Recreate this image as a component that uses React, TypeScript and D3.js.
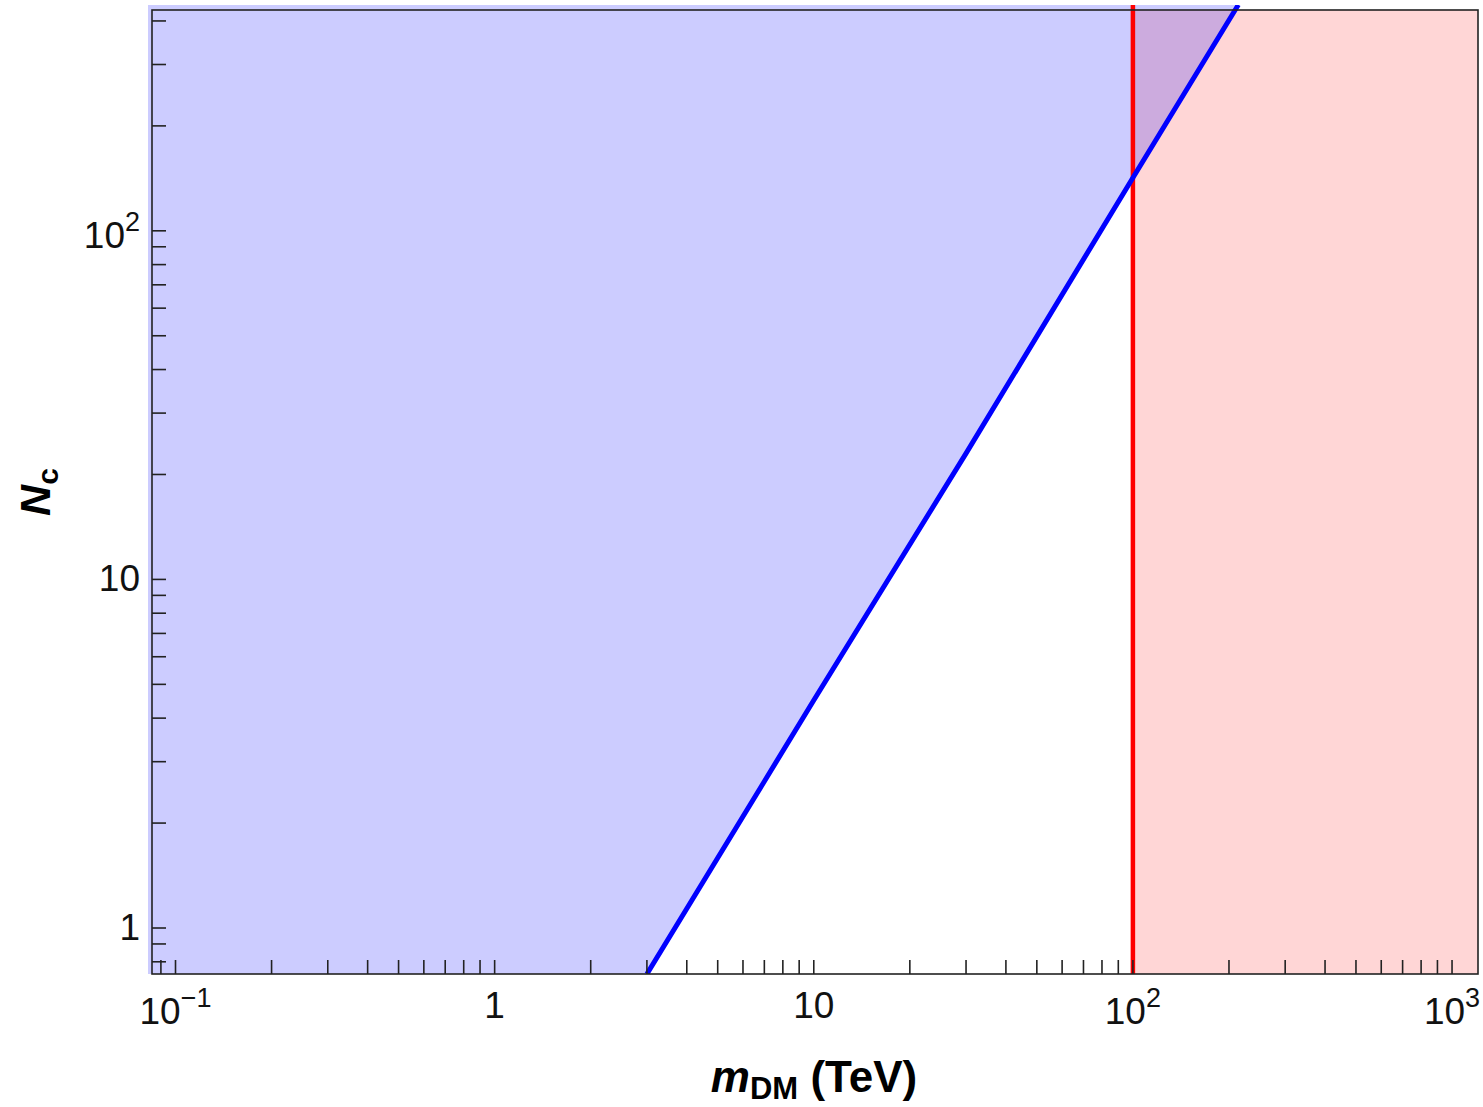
import { useEffect, useRef } from "react";
import * as d3 from "d3";

// blue boundary line (m_DM in TeV, N_c)
const lineMass = [3.0, 10, 30, 100, 214];
const lineNc = [0.738, 4.5, 23, 142, 445];

// red vertical bound
const massBound = 100;

// axis ranges
const xDomain = [0.0844, 1206];
const yDomain = [0.738, 430];

// tick labels
const xLabelValues = [0.1, 1, 10, 100, 1000];
const xLabelBase = ["10", "1", "10", "10", "10"];
const xLabelSup = ["\u22121", "", "", "2", "3"];
const yLabelValues = [1, 10, 100];
const yLabelBase = ["1", "10", "10"];
const yLabelSup = ["", "", "2"];

export default function App() {
    const ref = useRef<SVGSVGElement>(null);

    useEffect(() => {
        const svg = d3.select(ref.current);
        svg.selectAll("*").remove();

        const left = 152, right = 1478, top = 10, bottom = 974;
        const font = "'Liberation Sans', Arial, sans-serif";

        const x = d3.scaleLog().domain(xDomain).range([left, right]);
        const y = d3.scaleLog().domain(yDomain).range([bottom, top]);

        const pts = lineMass.map((m, i) => [x(m), y(lineNc[i])] as [number, number]);

        const defs = svg.append("defs");
        defs.append("clipPath").attr("id", "bleed")
            .append("rect")
            .attr("x", left - 4).attr("y", top - 5)
            .attr("width", right - left + 4).attr("height", bottom - top + 5);

        const g = svg.append("g").attr("clip-path", "url(#bleed)");

        // pink excluded region
        g.append("rect")
            .attr("x", x(massBound)).attr("y", top)
            .attr("width", right - x(massBound)).attr("height", bottom - top)
            .attr("fill", "rgb(255,0,0)").attr("fill-opacity", 0.16);

        // blue excluded region
        const lineGen = d3.line();
        const first = pts[0];
        const last = pts[pts.length - 1];
        g.append("path")
            .attr("d", lineGen(pts) + `L${left - 4},${last[1]}L${left - 4},${bottom}L${first[0]},${bottom}Z`)
            .attr("fill", "rgb(0,0,255)").attr("fill-opacity", 0.2);

        // red line
        g.append("line")
            .attr("x1", x(massBound)).attr("x2", x(massBound))
            .attr("y1", top - 5).attr("y2", bottom)
            .attr("stroke", "#ff0000").attr("stroke-width", 4.5);

        // blue line
        g.append("path")
            .attr("d", lineGen(pts))
            .attr("fill", "none")
            .attr("stroke", "#0000ff").attr("stroke-width", 5);

        // frame
        svg.append("rect")
            .attr("x", left).attr("y", top)
            .attr("width", right - left).attr("height", bottom - top)
            .attr("fill", "none").attr("stroke", "#222").attr("stroke-width", 1.6);

        // ticks
        const tickLen = 14;
        const xt = x.ticks().filter(v => x(v) > left + 1 && x(v) < right - 1);
        svg.append("g").selectAll("line").data(xt).enter().append("line")
            .attr("x1", d => x(d)).attr("x2", d => x(d))
            .attr("y1", bottom).attr("y2", bottom - tickLen)
            .attr("stroke", "#222").attr("stroke-width", 1.6);
        const yt = y.ticks().filter(v => y(v) > top + 1 && y(v) < bottom - 1);
        svg.append("g").selectAll("line").data(yt).enter().append("line")
            .attr("y1", d => y(d)).attr("y2", d => y(d))
            .attr("x1", left).attr("x2", left + tickLen)
            .attr("stroke", "#222").attr("stroke-width", 1.6);

        // x tick labels
        xLabelValues.forEach((v, i) => {
            const t = svg.append("text")
                .attr("x", x(v)).attr("y", xLabelSup[i] ? 1024 : 1018)
                .attr("text-anchor", "middle")
                .attr("font-family", font).attr("font-size", 37).attr("fill", "#111");
            t.append("tspan").text(xLabelBase[i]);
            if (xLabelSup[i]) {
                t.append("tspan").attr("font-size", 27).attr("dy", -17).text(xLabelSup[i]);
            }
        });

        // y tick labels
        yLabelValues.forEach((v, i) => {
            const t = svg.append("text")
                .attr("x", 140).attr("y", y(v) + (yLabelSup[i] ? 17 : 12))
                .attr("text-anchor", "end")
                .attr("font-family", font).attr("font-size", 37).attr("fill", "#111");
            t.append("tspan").text(yLabelBase[i]);
            if (yLabelSup[i]) {
                t.append("tspan").attr("font-size", 27).attr("dy", -17).text(yLabelSup[i]);
            }
        });

        // x title
        const xt2 = svg.append("text")
            .attr("x", 814).attr("y", 1092)
            .attr("text-anchor", "middle")
            .attr("font-family", font).attr("font-size", 44).attr("font-weight", "bold");
        xt2.append("tspan").attr("font-style", "italic").text("m");
        xt2.append("tspan").attr("font-size", 31).attr("dy", 7).text("DM");
        xt2.append("tspan").attr("dy", -7).text(" (TeV)");

        // y title
        const yt2 = svg.append("text")
            .attr("transform", "translate(50,492) rotate(-90)")
            .attr("text-anchor", "middle")
            .attr("font-family", font).attr("font-size", 43).attr("font-weight", "bold");
        yt2.append("tspan").attr("font-style", "italic").text("N");
        yt2.append("tspan").attr("font-size", 30).attr("dy", 8).text("c");
    }, []);

    return (
        <svg ref={ref} width={1483} height={1107}
            style={{ position: "absolute", left: 0, top: 0, background: "#fff" }} />
    );
}
